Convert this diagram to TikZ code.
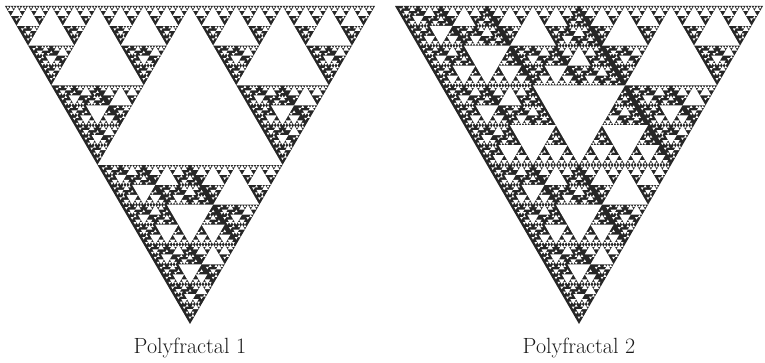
\documentclass[tikz,border=0pt]{standalone}
\usepackage{tikz}

\tikzset{
  gasket/.style={fill=black!85},
  hole/.style={fill=white},
  caption/.style={font=\fontsize{22}{24}\selectfont, text=black!90}
}

% one piece of the polyfractal: #1 state (S or F), #2 levels left,
% #3..#8 the three corners x1 y1 x2 y2 x3 y3
% S: three corner pieces, centre cut out, bottom piece goes to F
% F: four pieces, the centre one turned round (goes to S)
\newcommand\polypiece[8]{%
  \ifnum#2>0
  \begingroup
    \pgfmathsetmacro\mAx{(#3+#5)/2}\pgfmathsetmacro\mAy{(#4+#6)/2}%
    \pgfmathsetmacro\mBx{(#5+#7)/2}\pgfmathsetmacro\mBy{(#6+#8)/2}%
    \pgfmathsetmacro\mCx{(#3+#7)/2}\pgfmathsetmacro\mCy{(#4+#8)/2}%
    \pgfmathtruncatemacro\lvl{#2-1}%
    \if#1S
      \fill[hole] (\mAx,\mAy) -- (\mBx,\mBy) -- (\mCx,\mCy) -- cycle;
      \edef\next{%
        \noexpand\polypiece{S}{\lvl}{#3}{#4}{\mAx}{\mAy}{\mCx}{\mCy}%
        \noexpand\polypiece{S}{\lvl}{\mAx}{\mAy}{#5}{#6}{\mBx}{\mBy}%
        \noexpand\polypiece{F}{\lvl}{\mCx}{\mCy}{\mBx}{\mBy}{#7}{#8}}%
    \else
      \edef\next{%
        \noexpand\polypiece{F}{\lvl}{#3}{#4}{\mAx}{\mAy}{\mCx}{\mCy}%
        \noexpand\polypiece{S}{\lvl}{\mAx}{\mAy}{#5}{#6}{\mBx}{\mBy}%
        \noexpand\polypiece{F}{\lvl}{\mCx}{\mCy}{\mBx}{\mBy}{#7}{#8}%
        \noexpand\polypiece{S}{\lvl}{\mBx}{\mBy}{\mCx}{\mCy}{\mAx}{\mAy}}%
    \fi
    \next
  \endgroup
  \fi}

\begin{document}
\begin{tikzpicture}[x=1pt, y=1pt]
  \useasboundingbox (0,0) rectangle (765,363);

  % Polyfractal 1, starts in state S
  \fill[gasket] (5,357) -- (375,357) -- (190,39) -- cycle;
  \polypiece{S}{7}{5}{357}{375}{357}{190}{39}

  % Polyfractal 2, starts in state F
  \fill[gasket] (395,357) -- (763,357) -- (579,39) -- cycle;
  \polypiece{F}{7}{395}{357}{763}{357}{579}{39}

  \node[caption] (lab1) at (190,15) {Polyfractal 1};
  \node[caption] (lab2) at (579,15) {Polyfractal 2};
\end{tikzpicture}
\end{document}
